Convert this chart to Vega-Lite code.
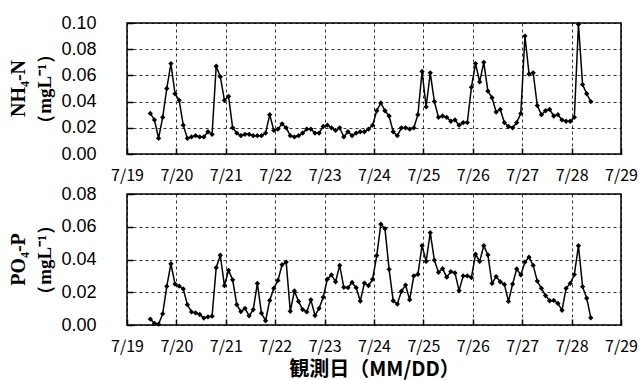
{
  "$schema": "https://vega.github.io/schema/vega-lite/v6.json",
  "background": "white",
  "padding": {"left": 8, "top": 13, "right": 0, "bottom": 0},
  "spacing": 0,
  "config": {
    "view": {"stroke": "black", "strokeWidth": 1.5},
    "axis": {"grid": true, "gridColor": "black", "gridDash": [3, 3], "gridWidth": 0.8, "domain": false, "tickSize": -6, "tickColor": "black", "tickWidth": 1.5, "labelColor": "black", "titleColor": "black"}
  },
  "data": {"values": [
    {"t": "2019-07-19T11:20", "nh4": 0.031, "po4": 0.0036},
    {"t": "2019-07-19T13:20", "nh4": 0.026, "po4": 0.001},
    {"t": "2019-07-19T15:20", "nh4": 0.012, "po4": 0.0005},
    {"t": "2019-07-19T17:20", "nh4": 0.028, "po4": 0.0068},
    {"t": "2019-07-19T19:20", "nh4": 0.050, "po4": 0.0236},
    {"t": "2019-07-19T21:20", "nh4": 0.069, "po4": 0.0374},
    {"t": "2019-07-19T23:20", "nh4": 0.046, "po4": 0.025},
    {"t": "2019-07-20T01:20", "nh4": 0.041, "po4": 0.0238},
    {"t": "2019-07-20T03:20", "nh4": 0.022, "po4": 0.022},
    {"t": "2019-07-20T05:20", "nh4": 0.012, "po4": 0.0124},
    {"t": "2019-07-20T07:20", "nh4": 0.013, "po4": 0.008},
    {"t": "2019-07-20T09:20", "nh4": 0.014, "po4": 0.0074},
    {"t": "2019-07-20T11:20", "nh4": 0.013, "po4": 0.0064},
    {"t": "2019-07-20T13:20", "nh4": 0.013, "po4": 0.0042},
    {"t": "2019-07-20T15:20", "nh4": 0.017, "po4": 0.005},
    {"t": "2019-07-20T17:20", "nh4": 0.015, "po4": 0.0054},
    {"t": "2019-07-20T19:20", "nh4": 0.067, "po4": 0.035},
    {"t": "2019-07-20T21:20", "nh4": 0.059, "po4": 0.0426},
    {"t": "2019-07-20T23:20", "nh4": 0.041, "po4": 0.024},
    {"t": "2019-07-21T01:20", "nh4": 0.044, "po4": 0.0334},
    {"t": "2019-07-21T03:20", "nh4": 0.020, "po4": 0.0276},
    {"t": "2019-07-21T05:20", "nh4": 0.016, "po4": 0.0124},
    {"t": "2019-07-21T07:20", "nh4": 0.014, "po4": 0.0082},
    {"t": "2019-07-21T09:20", "nh4": 0.015, "po4": 0.0102},
    {"t": "2019-07-21T11:20", "nh4": 0.015, "po4": 0.0056},
    {"t": "2019-07-21T13:20", "nh4": 0.014, "po4": 0.0094},
    {"t": "2019-07-21T15:20", "nh4": 0.014, "po4": 0.0254},
    {"t": "2019-07-21T17:20", "nh4": 0.014, "po4": 0.0072},
    {"t": "2019-07-21T19:20", "nh4": 0.016, "po4": 0.0026},
    {"t": "2019-07-21T21:20", "nh4": 0.030, "po4": 0.015},
    {"t": "2019-07-21T23:20", "nh4": 0.018, "po4": 0.0224},
    {"t": "2019-07-22T01:20", "nh4": 0.019, "po4": 0.0272},
    {"t": "2019-07-22T03:20", "nh4": 0.023, "po4": 0.0368},
    {"t": "2019-07-22T05:20", "nh4": 0.020, "po4": 0.0384},
    {"t": "2019-07-22T07:20", "nh4": 0.014, "po4": 0.0084},
    {"t": "2019-07-22T09:20", "nh4": 0.013, "po4": 0.0208},
    {"t": "2019-07-22T11:20", "nh4": 0.014, "po4": 0.0144},
    {"t": "2019-07-22T13:20", "nh4": 0.016, "po4": 0.0094},
    {"t": "2019-07-22T15:20", "nh4": 0.019, "po4": 0.008},
    {"t": "2019-07-22T17:20", "nh4": 0.019, "po4": 0.0154},
    {"t": "2019-07-22T19:20", "nh4": 0.016, "po4": 0.0058},
    {"t": "2019-07-22T21:20", "nh4": 0.016, "po4": 0.0102},
    {"t": "2019-07-22T23:20", "nh4": 0.021, "po4": 0.017},
    {"t": "2019-07-23T01:20", "nh4": 0.022, "po4": 0.028},
    {"t": "2019-07-23T03:20", "nh4": 0.020, "po4": 0.0306},
    {"t": "2019-07-23T05:20", "nh4": 0.018, "po4": 0.0264},
    {"t": "2019-07-23T07:20", "nh4": 0.020, "po4": 0.0364},
    {"t": "2019-07-23T09:20", "nh4": 0.013, "po4": 0.023},
    {"t": "2019-07-23T11:20", "nh4": 0.017, "po4": 0.0228},
    {"t": "2019-07-23T13:20", "nh4": 0.014, "po4": 0.026},
    {"t": "2019-07-23T15:20", "nh4": 0.016, "po4": 0.0228},
    {"t": "2019-07-23T17:20", "nh4": 0.017, "po4": 0.0146},
    {"t": "2019-07-23T19:20", "nh4": 0.017, "po4": 0.0256},
    {"t": "2019-07-23T21:20", "nh4": 0.019, "po4": 0.024},
    {"t": "2019-07-23T23:20", "nh4": 0.022, "po4": 0.028},
    {"t": "2019-07-24T01:20", "nh4": 0.033, "po4": 0.0424},
    {"t": "2019-07-24T03:20", "nh4": 0.039, "po4": 0.0616},
    {"t": "2019-07-24T05:20", "nh4": 0.033, "po4": 0.0588},
    {"t": "2019-07-24T07:20", "nh4": 0.029, "po4": 0.034},
    {"t": "2019-07-24T09:20", "nh4": 0.017, "po4": 0.0148},
    {"t": "2019-07-24T11:20", "nh4": 0.014, "po4": 0.0128},
    {"t": "2019-07-24T13:20", "nh4": 0.020, "po4": 0.0206},
    {"t": "2019-07-24T15:20", "nh4": 0.020, "po4": 0.0244},
    {"t": "2019-07-24T17:20", "nh4": 0.019, "po4": 0.0154},
    {"t": "2019-07-24T19:20", "nh4": 0.020, "po4": 0.030},
    {"t": "2019-07-24T21:20", "nh4": 0.030, "po4": 0.031},
    {"t": "2019-07-24T23:20", "nh4": 0.063, "po4": 0.0484},
    {"t": "2019-07-25T01:20", "nh4": 0.036, "po4": 0.0388},
    {"t": "2019-07-25T03:20", "nh4": 0.062, "po4": 0.0564},
    {"t": "2019-07-25T05:20", "nh4": 0.040, "po4": 0.0396},
    {"t": "2019-07-25T07:20", "nh4": 0.028, "po4": 0.0322},
    {"t": "2019-07-25T09:20", "nh4": 0.029, "po4": 0.0344},
    {"t": "2019-07-25T11:20", "nh4": 0.028, "po4": 0.0292},
    {"t": "2019-07-25T13:20", "nh4": 0.025, "po4": 0.0326},
    {"t": "2019-07-25T15:20", "nh4": 0.026, "po4": 0.0318},
    {"t": "2019-07-25T17:20", "nh4": 0.022, "po4": 0.021},
    {"t": "2019-07-25T19:20", "nh4": 0.024, "po4": 0.030},
    {"t": "2019-07-25T21:20", "nh4": 0.024, "po4": 0.030},
    {"t": "2019-07-25T23:20", "nh4": 0.051, "po4": 0.029},
    {"t": "2019-07-26T01:20", "nh4": 0.069, "po4": 0.0432},
    {"t": "2019-07-26T03:20", "nh4": 0.055, "po4": 0.0388},
    {"t": "2019-07-26T05:20", "nh4": 0.070, "po4": 0.0484},
    {"t": "2019-07-26T07:20", "nh4": 0.048, "po4": 0.0428},
    {"t": "2019-07-26T09:20", "nh4": 0.043, "po4": 0.0254},
    {"t": "2019-07-26T11:20", "nh4": 0.032, "po4": 0.0296},
    {"t": "2019-07-26T13:20", "nh4": 0.034, "po4": 0.0264},
    {"t": "2019-07-26T15:20", "nh4": 0.024, "po4": 0.0248},
    {"t": "2019-07-26T17:20", "nh4": 0.021, "po4": 0.0144},
    {"t": "2019-07-26T19:20", "nh4": 0.020, "po4": 0.025},
    {"t": "2019-07-26T21:20", "nh4": 0.024, "po4": 0.0342},
    {"t": "2019-07-26T23:20", "nh4": 0.031, "po4": 0.0306},
    {"t": "2019-07-27T01:20", "nh4": 0.090, "po4": 0.0384},
    {"t": "2019-07-27T03:20", "nh4": 0.061, "po4": 0.0414},
    {"t": "2019-07-27T05:20", "nh4": 0.062, "po4": 0.0364},
    {"t": "2019-07-27T07:20", "nh4": 0.037, "po4": 0.0268},
    {"t": "2019-07-27T09:20", "nh4": 0.030, "po4": 0.0224},
    {"t": "2019-07-27T11:20", "nh4": 0.033, "po4": 0.018},
    {"t": "2019-07-27T13:20", "nh4": 0.034, "po4": 0.0148},
    {"t": "2019-07-27T15:20", "nh4": 0.029, "po4": 0.015},
    {"t": "2019-07-27T17:20", "nh4": 0.030, "po4": 0.0132},
    {"t": "2019-07-27T19:20", "nh4": 0.026, "po4": 0.009},
    {"t": "2019-07-27T21:20", "nh4": 0.025, "po4": 0.0224},
    {"t": "2019-07-27T23:20", "nh4": 0.025, "po4": 0.0254},
    {"t": "2019-07-28T01:20", "nh4": 0.028, "po4": 0.0308},
    {"t": "2019-07-28T03:20", "nh4": 0.099, "po4": 0.0484},
    {"t": "2019-07-28T05:20", "nh4": 0.053, "po4": 0.0234},
    {"t": "2019-07-28T07:20", "nh4": 0.046, "po4": 0.0164},
    {"t": "2019-07-28T09:20", "nh4": 0.040, "po4": 0.0044}
  ]},
  "vconcat": [
    {
      "width": 494,
      "height": 131,
      "title": {"text": "NH₄-N", "orient": "left", "anchor": "middle", "frame": "group", "font": "Liberation Serif", "fontSize": 20, "fontWeight": "bold", "color": "black", "offset": 7},
      "mark": {"type": "line", "color": "black", "strokeWidth": 1.5, "point": {"shape": "diamond", "filled": true, "size": 28, "color": "black"}},
      "encoding": {
        "x": {"field": "t", "type": "temporal",
          "scale": {"domain": [{"year": 2019, "month": 7, "date": 19}, {"year": 2019, "month": 7, "date": 29}]},
          "axis": {"title": null, "format": "%-m/%-d", "tickCount": {"interval": "day", "step": 1}, "labelFont": "Noto Sans CJK JP", "labelFontSize": 16, "labelPadding": 19, "labelFlush": false, "labelOverlap": false}},
        "y": {"field": "nh4", "type": "quantitative",
          "scale": {"domain": [0, 0.1]},
          "axis": {"values": [0, 0.02, 0.04, 0.06, 0.08, 0.1], "format": ".2f", "labelFont": "Liberation Sans", "labelFontSize": 18, "labelPadding": 37, "title": "（mgL⁻¹）", "titleFont": "Liberation Serif", "titleFontSize": 19, "titleFontWeight": "bold", "titlePadding": 6}}
      }
    },
    {
      "width": 494,
      "height": 131,
      "title": {"text": "PO₄-P", "orient": "left", "anchor": "middle", "frame": "group", "font": "Liberation Serif", "fontSize": 20, "fontWeight": "bold", "color": "black", "offset": 7},
      "mark": {"type": "line", "color": "black", "strokeWidth": 1.5, "point": {"shape": "diamond", "filled": true, "size": 28, "color": "black"}},
      "encoding": {
        "x": {"field": "t", "type": "temporal",
          "scale": {"domain": [{"year": 2019, "month": 7, "date": 19}, {"year": 2019, "month": 7, "date": 29}]},
          "axis": {"title": "観測日（MM/DD）", "titleFont": "Noto Sans CJK JP", "titleFontSize": 20, "titleFontWeight": "bold", "titlePadding": 5, "format": "%-m/%-d", "tickCount": {"interval": "day", "step": 1}, "labelFont": "Noto Sans CJK JP", "labelFontSize": 16, "labelPadding": 19, "labelFlush": false, "labelOverlap": false}},
        "y": {"field": "po4", "type": "quantitative",
          "scale": {"domain": [0, 0.08]},
          "axis": {"values": [0, 0.02, 0.04, 0.06, 0.08], "format": ".2f", "labelFont": "Liberation Sans", "labelFontSize": 18, "labelPadding": 37, "title": "（mgL⁻¹）", "titleFont": "Liberation Serif", "titleFontSize": 19, "titleFontWeight": "bold", "titlePadding": 6}}
      }
    }
  ]
}
